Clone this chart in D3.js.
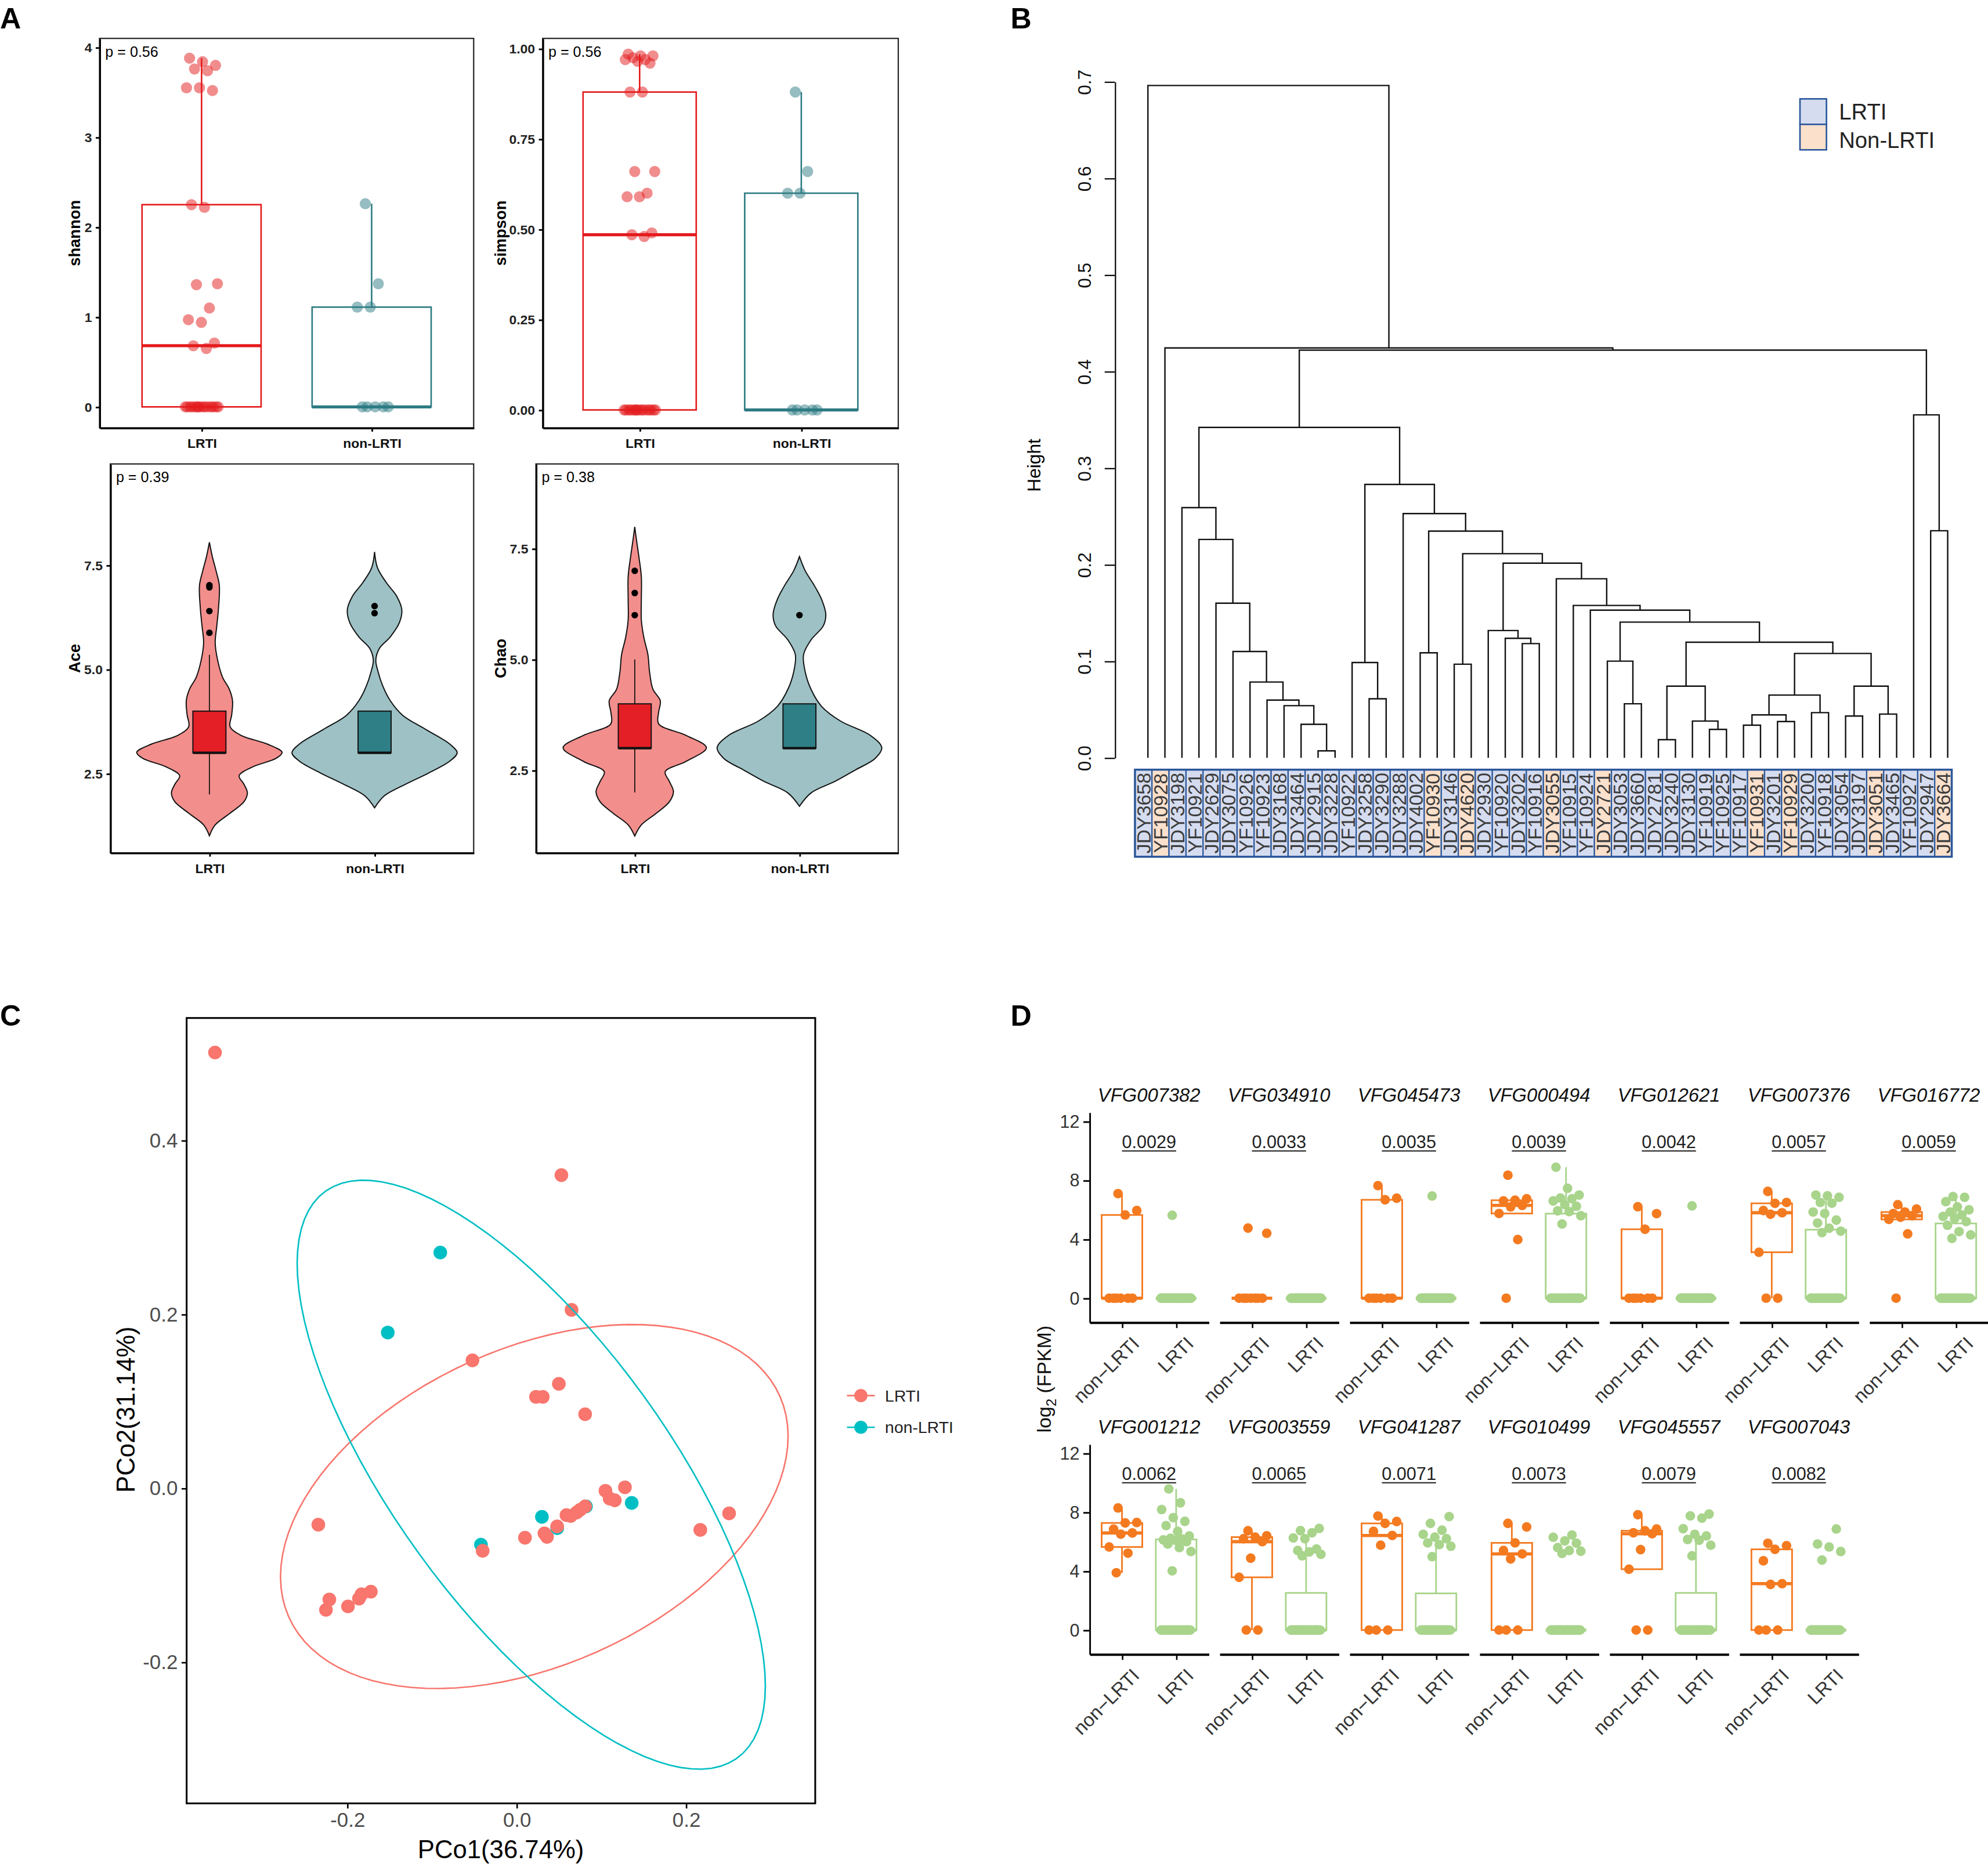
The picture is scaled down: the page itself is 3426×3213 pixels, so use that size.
<!DOCTYPE html>
<html>
<head>
<meta charset="utf-8">
<script src="https://cdn.jsdelivr.net/npm/d3@7"></script>
<style>
  body { margin: 0; background: #fff; }
  svg { display: block; font-family: "Liberation Sans", Arial, sans-serif; }
</style>
</head>
<body>
<script>
// ---------------- data: panel A ----------------
var groups = ['LRTI', 'non-LRTI'];

var shannonLRTI = [0, 0, 0, 0, 0, 0, 0, 0, 0, 0, 0, 0, 0, 0, 0,
  0.65, 0.68, 0.71, 0.94, 0.97, 1.10, 1.36, 1.37, 2.22, 2.25,
  3.52, 3.55, 3.55, 3.74, 3.76, 3.80, 3.84, 3.88];
var shannonNon = [0, 0, 0, 0, 0, 1.11, 1.11, 1.37, 2.26];

var simpsonLRTI = [0, 0, 0, 0, 0, 0, 0, 0, 0, 0, 0, 0, 0, 0, 0,
  0.48, 0.485, 0.49, 0.59, 0.59, 0.60, 0.66, 0.66, 0.88, 0.88,
  0.96, 0.965, 0.97, 0.97, 0.975, 0.98, 0.98, 0.985];
var simpsonNon = [0, 0, 0, 0, 0, 0.60, 0.60, 0.66, 0.88];

// box summaries: lower whisker, q1, median, q3, upper whisker
var aceBoxLRTI = [2.0, 3.0, 3.0, 4.0, 5.35];
var aceBoxNon = [3.0, 3.0, 3.0, 4.0, 4.0];
var aceOutLRTI = [5.88, 6.4, 6.97, 7.02];
var aceOutNon = [6.35, 6.52];
var chaoBoxLRTI = [2.0, 3.0, 3.0, 4.0, 5.0];
var chaoBoxNon = [3.0, 3.0, 3.0, 4.0, 4.0];
var chaoOutLRTI = [6.0, 6.5, 7.0];
var chaoOutNon = [6.0];

// violin outlines: [value, relative density]
var aceViolinLRTI = [[1.01, 0], [1.27, .07], [1.55, .25], [1.83, .42], [2.04, .46], [2.24, .42],
  [2.45, .36], [2.66, .52], [2.87, .81], [3.01, .88], [3.21, .70], [3.42, .38], [3.63, .25],
  [3.91, .27], [4.25, .28], [4.53, .24], [4.81, .16], [5.22, .10], [5.64, .07], [6.05, .09],
  [6.47, .11], [7.02, .12], [7.37, .08], [7.71, .035], [8.05, 0]];
var aceViolinNon = [[1.68, 0], [1.97, .12], [2.24, .37], [2.52, .66], [2.8, .91], [3.0, 1],
  [3.21, .91], [3.56, .62], [3.9, .34], [4.25, .19], [4.6, .10], [4.94, .043], [5.22, .015],
  [5.5, .057], [5.78, .19], [6.12, .30], [6.43, .33], [6.75, .27], [7.09, .14], [7.44, .035], [7.82, 0]];
var chaoViolinLRTI = [[1.02, 0], [1.27, .08], [1.53, .26], [1.79, .42], [2.02, .47], [2.25, .42],
  [2.47, .37], [2.7, .62], [3.01, .87], [3.29, .62], [3.55, .29], [3.81, .29], [4.07, .31],
  [4.33, .22], [4.72, .18], [5.11, .16], [5.5, .11], [5.89, .08], [6.35, .08], [6.87, .08],
  [7.32, .05], [7.71, .02], [7.99, 0]];
var chaoViolinNon = [[1.69, 0], [1.99, .14], [2.25, .43], [2.51, .68], [2.77, .92], [3.01, 1],
  [3.29, .86], [3.61, .50], [3.94, .27], [4.33, .14], [4.72, .07], [5.11, .05], [5.44, .14],
  [5.76, .29], [6.02, .32], [6.35, .27], [6.67, .18], [7.0, .07], [7.32, 0]];

// ---------------- data: panel B ----------------
var leafNames = ['JDY3658', 'YF10928', 'JDY3198', 'YF10921', 'JDY2629', 'JDY3075', 'YF10926',
  'YF10923', 'JDY3168', 'JDY3464', 'JDY2915', 'JDY3228', 'YF10922', 'JDY3258', 'JDY3290',
  'JDY3288', 'JDY4002', 'YF10930', 'JDY3146', 'JDY4620', 'JDY2930', 'YF10920', 'JDY3202',
  'YF10916', 'JDY3055', 'YF10915', 'YF10924', 'JDY2721', 'JDY3053', 'JDY3660', 'JDY2781',
  'JDY3240', 'JDY3130', 'YF10919', 'YF10925', 'YF10917', 'YF10931', 'JDY3201', 'YF10929',
  'JDY3200', 'YF10918', 'JDY3054', 'JDY3197', 'JDY3051', 'JDY3465', 'YF10927', 'JDY2947', 'JDY3664'];
var nonLRTILeaves = ['YF10928', 'YF10930', 'JDY4620', 'JDY3055', 'JDY2721', 'YF10931',
  'YF10929', 'JDY3051', 'JDY3664'];
// hclust-style merges: negative = leaf (1-based, in display order), positive = earlier merge
var merges = [
  [-11, -12, 0.0072], [-10, 1, 0.0346], [-9, 2, 0.0539], [-8, 3, 0.0597], [-7, 4, 0.0784],
  [-6, 5, 0.110], [-5, 6, 0.160], [-4, 7, 0.226], [-3, 8, 0.259], [-14, -15, 0.0611],
  [-13, 10, 0.0986], [-23, -24, 0.1182], [-22, 12, 0.1237], [-21, 13, 0.1317], [-19, -20, 0.0969],
  [-17, -18, 0.1087], [-29, -30, 0.0559], [-28, 17, 0.100], [-31, -32, 0.0187], [-34, -35, 0.0294],
  [-33, 20, 0.038], [19, 21, 0.0741], [-36, -37, 0.0337], [-38, -39, 0.0375], [23, 24, 0.0444],
  [-40, -41, 0.0467], [25, 26, 0.0649], [-42, -43, 0.0432], [-44, -45, 0.0452], [28, 29, 0.0741],
  [27, 30, 0.108], [22, 31, 0.1196], [18, 32, 0.1404], [-27, 33, 0.1528], [-26, 34, 0.1577],
  [-25, 35, 0.1853], [14, 36, 0.2015], [15, 37, 0.2113], [16, 38, 0.2346], [-16, 39, 0.2528],
  [11, 40, 0.283], [9, 41, 0.342], [-47, -48, 0.235], [-46, 43, 0.355], [42, 44, 0.422],
  [-2, 45, 0.4243], [-1, 46, 0.696]];
var heightTicks = [0, 0.1, 0.2, 0.3, 0.4, 0.5, 0.6, 0.7];

// ---------------- data: panel C ----------------
var pcoaLRTI = [[-0.356, 0.501], [0.053, 0.360], [0.065, 0.205], [-0.052, 0.147], [0.050, 0.120],
  [0.023, 0.105], [0.031, 0.105], [0.081, 0.085], [0.105, -0.003], [0.128, 0.001], [0.110, -0.012],
  [0.116, -0.014], [0.081, -0.021], [0.071, -0.028], [0.064, -0.032], [0.075, -0.025],
  [0.059, -0.031], [0.048, -0.044], [0.033, -0.052], [0.036, -0.056], [0.010, -0.057],
  [-0.040, -0.072], [0.251, -0.029], [0.217, -0.048], [-0.234, -0.042], [-0.172, -0.119],
  [-0.183, -0.122], [-0.186, -0.127], [-0.199, -0.136], [-0.221, -0.128], [-0.225, -0.140]];
var pcoaNon = [[-0.090, 0.271], [-0.152, 0.179], [0.030, -0.033], [0.048, -0.046],
  [0.082, -0.021], [0.136, -0.017], [-0.042, -0.065]];
// 95% ellipses: centre x, centre y, var x, var y, cov xy
var ellipseLRTI = [0.021, -0.0211, 0.0898, 0.0438, 0.0242];
var ellipseNon = [0.0174, 0.0155, 0.0764, 0.1147, -0.0671];
var pcoTicksX = [-0.2, 0, 0.2];
var pcoTicksY = [-0.2, 0, 0.2, 0.4];

// ---------------- data: panel D ----------------
var vfgNames = ['VFG007382', 'VFG034910', 'VFG045473', 'VFG000494', 'VFG012621', 'VFG007376',
  'VFG016772', 'VFG001212', 'VFG003559', 'VFG041287', 'VFG010499', 'VFG045557', 'VFG007043'];
var vfgP = ['0.0029', '0.0033', '0.0035', '0.0039', '0.0042', '0.0057', '0.0059',
  '0.0062', '0.0065', '0.0071', '0.0073', '0.0079', '0.0082'];
var vfgNon = [
  [7.1, 5.95, 5.65, 0, 0, 0, 0, 0, 0],
  [4.76, 4.41, 0, 0, 0, 0, 0, 0, 0],
  [7.64, 6.79, 6.68, 0, 0, 0, 0, 0, 0],
  [8.35, 6.75, 6.65, 6.6, 6.3, 6.2, 5.75, 3.98, 0],
  [6.21, 5.74, 4.68, 0, 0, 0, 0, 0, 0],
  [7.25, 6.5, 6.44, 5.95, 5.8, 5.7, 3.12, 0, 0],
  [6.35, 6.05, 5.85, 5.75, 5.6, 5.5, 5.35, 4.37, 0],
  [8.29, 7.3, 7.27, 6.85, 6.59, 6.51, 5.64, 5.22, 3.89],
  [6.74, 6.4, 6.31, 6.2, 6.0, 4.88, 3.58, 0, 0],
  [7.74, 7.37, 7.24, 6.7, 6.42, 5.76, 0, 0, 0],
  [7.24, 7.0, 5.92, 5.4, 5.17, 4.83, 0, 0, 0],
  [7.83, 6.86, 6.74, 6.6, 6.54, 5.46, 4.13, 0, 0],
  [5.89, 5.73, 5.48, 4.7, 3.15, 3.1, 0, 0, 0]];
// LRTI samples with reads; the remaining of the 39 LRTI samples are 0
var nLRTI = 39;
var vfgLRTINonZero = [
  [5.63],
  [],
  [6.94],
  [5.04, 5.6, 5.88, 5.93, 6.24, 6.35, 6.6, 6.75, 6.8, 7.0, 7.46, 8.89],
  [6.27],
  [4.45, 4.55, 4.75, 5.1, 5.3, 5.75, 5.85, 6.45, 6.5, 6.85, 6.95, 7.0],
  [4.06, 4.3, 4.52, 4.95, 5.2, 5.4, 5.55, 5.65, 5.85, 6.0, 6.2, 6.55, 6.85, 6.9],
  [4.02, 5.33, 5.6, 5.84, 6.0, 6.1, 6.12, 6.18, 6.23, 6.39, 6.7, 7.09, 7.38, 7.63, 8.18, 8.64, 9.58],
  [5.04, 5.14, 5.3, 5.4, 5.5, 6.2, 6.25, 6.6, 6.75, 6.9],
  [4.98, 5.69, 5.8, 5.92, 6.2, 6.31, 6.5, 6.78, 7.24, 7.7],
  [5.2, 5.35, 5.4, 5.6, 5.9, 6.05, 6.3, 6.45],
  [5.04, 5.76, 6.1, 6.15, 6.39, 6.5, 6.88, 7.6, 7.75, 7.87],
  [4.75, 5.33, 5.64, 5.84, 6.86]];
var vfgGroups = ['non-LRTI', 'LRTI'];
var log2Ticks = [0, 4, 8, 12];

// ---------------- drawing ----------------
var W = 3426, H = 3213;
var VW = 1568, VH = VW * H / W;

var svg = d3.select('body').append('svg')
  .attr('width', W)
  .attr('height', H)
  .attr('viewBox', '0 0 ' + VW + ' ' + VH);

// deterministic spread for jittered points
var spread = function(i) {
  return ((i * 0.618034 + 0.37) % 1) - 0.5;
};

var boxStats = function(vals) {
  var s = vals.slice().sort(d3.ascending);
  var q1 = d3.quantile(s, 0.25), med = d3.quantile(s, 0.5), q3 = d3.quantile(s, 0.75);
  var iqr = q3 - q1;
  var lo = d3.min(s.filter(function(v) { return v >= q1 - 1.5 * iqr; }));
  var hi = d3.max(s.filter(function(v) { return v <= q3 + 1.5 * iqr; }));
  return [lo, q1, med, q3, hi];
};

var styleAxis = function(g, size, weight, color, lw) {
  g.attr('font-family', null).attr('font-size', null);
  g.selectAll('text')
    .attr('font-size', size)
    .attr('font-weight', weight)
    .attr('fill', color);
  g.selectAll('line').attr('stroke', '#000').attr('stroke-width', lw);
  g.selectAll('.domain').attr('stroke', '#000').attr('stroke-width', lw);
};

var panelLetter = function(t, x, y) {
  svg.append('text').attr('x', x).attr('y', y)
    .attr('font-size', 23).attr('font-weight', 'bold').text(t);
};

panelLetter('A', 0, 22.5);
panelLetter('B', 797, 22.5);
panelLetter('C', 0, 809);
panelLetter('D', 797, 809);

// ---------- panel A ----------
var lineCol = { 'LRTI': '#e41a1c', 'non-LRTI': '#2d7b83' };
var violinFill = { 'LRTI': '#f28e8c', 'non-LRTI': '#9dc1c5' };
var boxFill = { 'LRTI': '#e41f26', 'non-LRTI': '#2f7f86' };

var panelFrame = function(o) {
  var g = svg.append('g');
  var x = d3.scalePoint().domain(groups).range([o.x0, o.x1]).padding(0.6);
  var y = d3.scaleLinear().domain(o.dom).range([o.y1, o.y0]);
  g.append('rect')
    .attr('x', o.x0).attr('y', o.y0)
    .attr('width', o.x1 - o.x0).attr('height', o.y1 - o.y0)
    .attr('fill', 'none').attr('stroke', '#222').attr('stroke-width', 1);
  var ya = g.append('g').attr('transform', 'translate(' + o.x0 + ',0)')
    .call(d3.axisLeft(y).tickValues(o.ticks).tickFormat(o.fmt).tickSize(3).tickSizeOuter(0));
  styleAxis(ya, 10.5, 'bold', '#222', 1.3);
  var xa = g.append('g').attr('transform', 'translate(0,' + o.y1 + ')')
    .call(d3.axisBottom(x).tickSize(3).tickSizeOuter(0));
  styleAxis(xa, 10.5, 'bold', '#111', 1.3);
  xa.selectAll('text').attr('dy', '0.95em');
  g.append('text')
    .attr('transform', 'translate(' + o.titleX + ',' + ((o.y0 + o.y1) / 2) + ') rotate(-90)')
    .attr('text-anchor', 'middle').attr('font-size', 12.5).attr('font-weight', 'bold')
    .text(o.title);
  g.append('text').attr('x', o.x0 + 4.5).attr('y', o.y0 + 14.5)
    .attr('font-size', 11.5).text(o.p);
  return { g: g, x: x, y: y };
};

var drawJitterBox = function(o, series) {
  var p = panelFrame(o);
  var bw = 0.7 * p.x.step();
  series.forEach(function(vals, k) {
    var grp = groups[k];
    var cx = p.x(grp);
    var st = boxStats(vals);
    var c = lineCol[grp];
    p.g.append('line').attr('x1', cx).attr('x2', cx)
      .attr('y1', p.y(st[3])).attr('y2', p.y(st[4])).attr('stroke', c).attr('stroke-width', 1.2);
    p.g.append('line').attr('x1', cx).attr('x2', cx)
      .attr('y1', p.y(st[1])).attr('y2', p.y(st[0])).attr('stroke', c).attr('stroke-width', 1.2);
    p.g.append('rect')
      .attr('x', cx - bw / 2).attr('width', bw)
      .attr('y', p.y(st[3])).attr('height', Math.max(0, p.y(st[1]) - p.y(st[3])))
      .attr('fill', 'none').attr('stroke', c).attr('stroke-width', 1.2);
    p.g.append('line').attr('x1', cx - bw / 2).attr('x2', cx + bw / 2)
      .attr('y1', p.y(st[2])).attr('y2', p.y(st[2])).attr('stroke', c).attr('stroke-width', 2.4);
    p.g.selectAll(null).data(vals).enter().append('circle')
      .attr('cx', function(d, i) { return cx + spread(i) * 0.2 * p.x.step(); })
      .attr('cy', function(d) { return p.y(d); })
      .attr('r', 4.4)
      .attr('fill', c).attr('fill-opacity', 0.5);
  });
};

drawJitterBox({ x0: 78.5, x1: 373.6, y0: 30.3, y1: 337.5, dom: [-0.233, 4.1], titleX: 63,
  ticks: [0, 1, 2, 3, 4], fmt: d3.format('d'), title: 'shannon', p: 'p = 0.56' },
  [shannonLRTI, shannonNon]);
drawJitterBox({ x0: 428, x1: 708.5, y0: 30.3, y1: 337.5, dom: [-0.0495, 1.0285], titleX: 399,
  ticks: [0, 0.25, 0.5, 0.75, 1], fmt: d3.format('.2f'), title: 'simpson', p: 'p = 0.56' },
  [simpsonLRTI, simpsonNon]);

var drawViolinBox = function(o, profiles, boxes, outs) {
  var p = panelFrame(o);
  var halfMax = 0.5 * p.x.step();
  var bw = 0.2 * p.x.step();
  profiles.forEach(function(prof, k) {
    var grp = groups[k];
    var cx = p.x(grp);
    var area = d3.area()
      .y(function(d) { return p.y(d[0]); })
      .x0(function(d) { return cx - d[1] * halfMax; })
      .x1(function(d) { return cx + d[1] * halfMax; })
      .curve(d3.curveCatmullRom);
    p.g.append('path').datum(prof).attr('d', area)
      .attr('fill', violinFill[grp]).attr('stroke', '#111').attr('stroke-width', 0.9);
    var st = boxes[k];
    p.g.append('line').attr('x1', cx).attr('x2', cx)
      .attr('y1', p.y(st[0])).attr('y2', p.y(st[4])).attr('stroke', '#111').attr('stroke-width', 0.8);
    p.g.append('rect')
      .attr('x', cx - bw / 2).attr('width', bw)
      .attr('y', p.y(st[3])).attr('height', p.y(st[1]) - p.y(st[3]))
      .attr('fill', boxFill[grp]).attr('stroke', '#111').attr('stroke-width', 0.9);
    p.g.append('line').attr('x1', cx - bw / 2).attr('x2', cx + bw / 2)
      .attr('y1', p.y(st[2])).attr('y2', p.y(st[2])).attr('stroke', '#111').attr('stroke-width', 2);
    p.g.selectAll(null).data(outs[k]).enter().append('circle')
      .attr('cx', cx).attr('cy', function(d) { return p.y(d); })
      .attr('r', 2.6).attr('fill', '#000');
  });
};

drawViolinBox({ x0: 87, x1: 373.6, y0: 366, y1: 672.8, dom: [0.6, 9.93], titleX: 63,
  ticks: [2.5, 5, 7.5], fmt: d3.format('.1f'), title: 'Ace', p: 'p = 0.39' },
  [aceViolinLRTI, aceViolinNon], [aceBoxLRTI, aceBoxNon], [aceOutLRTI, aceOutNon]);
drawViolinBox({ x0: 422.7, x1: 708.5, y0: 366, y1: 672.8, dom: [0.64, 9.41], titleX: 399,
  ticks: [2.5, 5, 7.5], fmt: d3.format('.1f'), title: 'Chao', p: 'p = 0.38' },
  [chaoViolinLRTI, chaoViolinNon], [chaoBoxLRTI, chaoBoxNon], [chaoOutLRTI, chaoOutNon]);

// ---------- panel B ----------
var gB = svg.append('g');
var xB = d3.scalePoint().domain(d3.range(1, leafNames.length + 1)).range([905.4, 1536.2]);
var yB = d3.scaleLinear().domain([0, 0.7]).range([597.8, 64.4]);

var nodes = [];
var nodePos = function(c) {
  return c < 0 ? { x: xB(-c), h: 0 } : nodes[c - 1];
};
merges.forEach(function(m) {
  var a = nodePos(m[0]), b = nodePos(m[1]);
  nodes.push({ x: (a.x + b.x) / 2, h: m[2], a: a, b: b });
});
gB.selectAll(null).data(nodes).enter().append('path')
  .attr('d', function(n) {
    return 'M' + n.a.x + ',' + yB(n.a.h) + 'V' + yB(n.h) + 'H' + n.b.x + 'V' + yB(n.b.h);
  })
  .attr('fill', 'none').attr('stroke', '#111').attr('stroke-width', 1.1);

var axB = gB.append('g').attr('transform', 'translate(879.3,0)')
  .call(d3.axisLeft(yB).tickValues(heightTicks).tickFormat(d3.format('.1f')).tickSize(8).tickSizeOuter(0));
styleAxis(axB, 14.5, 'normal', '#111', 1);
axB.selectAll('text')
  .attr('x', null).attr('dy', null)
  .attr('text-anchor', 'middle')
  .attr('transform', 'translate(-19,0) rotate(-90)');
gB.append('text')
  .attr('transform', 'translate(820.5,367) rotate(-90)')
  .attr('text-anchor', 'middle').attr('font-size', 14.5).text('Height');

var cellW = xB.step();
var cells = gB.selectAll(null).data(leafNames).enter().append('g')
  .attr('transform', function(d, i) { return 'translate(' + (xB(i + 1) - 3.5) + ',0)'; });
cells.append('rect')
  .attr('x', -cellW / 2).attr('width', cellW)
  .attr('y', 607.2).attr('height', 68.7)
  .attr('fill', function(d) { return nonLRTILeaves.indexOf(d) >= 0 ? '#fbe0cb' : '#d5dcf0'; })
  .attr('stroke', '#2b579a').attr('stroke-width', 1);
cells.append('text')
  .attr('transform', 'translate(0,641.5) rotate(-90)')
  .attr('text-anchor', 'middle').attr('dy', '0.36em')
  .attr('font-size', 15.5).attr('fill', '#3c3c3c')
  .text(function(d) { return d; });
gB.append('rect')
  .attr('x', xB(1) - 3.5 - cellW / 2).attr('y', 607.2)
  .attr('width', cellW * leafNames.length).attr('height', 68.7)
  .attr('fill', 'none').attr('stroke', '#2b579a').attr('stroke-width', 1.6);

var legB = [['LRTI', '#d5dcf0'], ['Non-LRTI', '#fbe0cb']];
legB.forEach(function(l, i) {
  gB.append('rect').attr('x', 1419.7).attr('y', 78 + i * 20.1)
    .attr('width', 20.9).attr('height', 20.1)
    .attr('fill', l[1]).attr('stroke', '#2b579a').attr('stroke-width', 1.2);
  gB.append('text').attr('x', 1450.5).attr('y', 94.5 + i * 22)
    .attr('font-size', 17.5).attr('fill', '#222').text(l[0]);
});

// ---------- panel C ----------
var gC = svg.append('g');
var xC = d3.scaleLinear().domain([-0.3895, 0.3527]).range([147.2, 643]);
var yC = d3.scaleLinear().domain([-0.3625, 0.5407]).range([1422.7, 803.1]);
var colC = { 'LRTI': '#f8766d', 'non-LRTI': '#00bfc4' };
var numFmt = function(d) { return d.toFixed(1); };

var axCx = gC.append('g').attr('transform', 'translate(0,1422.7)')
  .call(d3.axisBottom(xC).tickValues(pcoTicksX).tickFormat(numFmt).tickSize(4).tickSizeOuter(0));
styleAxis(axCx, 16, 'normal', '#4d4d4d', 1.2);
axCx.select('.domain').remove();
var axCy = gC.append('g').attr('transform', 'translate(147.2,0)')
  .call(d3.axisLeft(yC).tickValues(pcoTicksY).tickFormat(numFmt).tickSize(4).tickSizeOuter(0));
styleAxis(axCy, 16, 'normal', '#4d4d4d', 1.2);
axCy.select('.domain').remove();

gC.selectAll(null).data(pcoaNon).enter().append('circle')
  .attr('cx', function(d) { return xC(d[0]); }).attr('cy', function(d) { return yC(d[1]); })
  .attr('r', 5.4).attr('fill', colC['non-LRTI']);
gC.selectAll(null).data(pcoaLRTI).enter().append('circle')
  .attr('cx', function(d) { return xC(d[0]); }).attr('cy', function(d) { return yC(d[1]); })
  .attr('r', 5.4).attr('fill', colC['LRTI']);

var ellipsePts = function(e) {
  var l11 = Math.sqrt(e[2]);
  var l21 = e[4] / l11;
  var l22 = Math.sqrt(e[3] - l21 * l21);
  return d3.range(0, 101).map(function(i) {
    var t = i / 100 * 2 * Math.PI;
    return [e[0] + l11 * Math.cos(t), e[1] + l21 * Math.cos(t) + l22 * Math.sin(t)];
  });
};
var ellLine = d3.line()
  .x(function(d) { return xC(d[0]); })
  .y(function(d) { return yC(d[1]); });
gC.append('path').datum(ellipsePts(ellipseLRTI)).attr('d', ellLine)
  .attr('fill', 'none').attr('stroke', colC['LRTI']).attr('stroke-width', 1.2);
gC.append('path').datum(ellipsePts(ellipseNon)).attr('d', ellLine)
  .attr('fill', 'none').attr('stroke', colC['non-LRTI']).attr('stroke-width', 1.2);

gC.append('rect').attr('x', 147.2).attr('y', 803.1)
  .attr('width', 643 - 147.2).attr('height', 1422.7 - 803.1)
  .attr('fill', 'none').attr('stroke', '#000').attr('stroke-width', 1.4);

gC.append('text').attr('x', 395).attr('y', 1466)
  .attr('text-anchor', 'middle').attr('font-size', 20).text('PCo1(36.74%)');
gC.append('text').attr('transform', 'translate(106,1112) rotate(-90)')
  .attr('text-anchor', 'middle').attr('font-size', 20).text('PCo2(31.14%)');

groups.forEach(function(grp, i) {
  var ly = 1101 + i * 25;
  gC.append('line').attr('x1', 668).attr('x2', 690).attr('y1', ly).attr('y2', ly)
    .attr('stroke', colC[grp]).attr('stroke-width', 1.2);
  gC.append('circle').attr('cx', 679).attr('cy', ly).attr('r', 5.2).attr('fill', colC[grp]);
  gC.append('text').attr('x', 698).attr('y', ly + 4.6)
    .attr('font-size', 13).attr('fill', '#222').text(grp);
});

// ---------- panel D ----------
var gD = svg.append('g');
var colD = { 'non-LRTI': '#f47a20', 'LRTI': '#a8d48b' };
var facetW = 94, facetStep = 102.5, rowStep = 261.8;

vfgNames.forEach(function(name, f) {
  var row = f < 7 ? 0 : 1;
  var col = row ? f - 7 : f;
  var x0 = 859.3 + col * facetStep;
  var xD = d3.scalePoint().domain(vfgGroups).range([x0, x0 + facetW]).padding(0.6);
  var yD = d3.scaleLinear().domain([-1.63, 12.62])
    .range([1043.1 + row * rowStep, 877.5 + row * rowStep]);
  var g = gD.append('g');
  var lrti = vfgLRTINonZero[f].concat(d3.range(nLRTI - vfgLRTINonZero[f].length).map(function() { return 0; }));
  var series = { 'non-LRTI': vfgNon[f], 'LRTI': lrti };
  var bw = 0.75 * xD.step();

  vfgGroups.forEach(function(grp) {
    var vals = series[grp];
    var cx = xD(grp);
    var c = colD[grp];
    var st = boxStats(vals);
    g.append('line').attr('x1', cx).attr('x2', cx)
      .attr('y1', yD(st[0])).attr('y2', yD(st[4])).attr('stroke', c).attr('stroke-width', 1.3);
    g.append('rect')
      .attr('x', cx - bw / 2).attr('width', bw)
      .attr('y', yD(st[3])).attr('height', Math.max(0, yD(st[1]) - yD(st[3])))
      .attr('fill', '#fff').attr('stroke', c).attr('stroke-width', 1.3);
    g.append('line').attr('x1', cx - bw / 2).attr('x2', cx + bw / 2)
      .attr('y1', yD(st[2])).attr('y2', yD(st[2])).attr('stroke', c).attr('stroke-width', 2.6);
    g.selectAll(null).data(vals).enter().append('circle')
      .attr('cx', function(d, i) { return cx + spread(i) * 0.56 * xD.step(); })
      .attr('cy', function(d) { return yD(d); })
      .attr('r', 3.8).attr('fill', c);
  });

  g.append('text').attr('x', x0 + facetW / 2).attr('y', 869 + row * rowStep)
    .attr('text-anchor', 'middle').attr('font-size', 15).attr('font-style', 'italic')
    .attr('fill', '#111').text(name);
  g.append('line')
    .attr('x1', xD('non-LRTI')).attr('x2', xD('LRTI'))
    .attr('y1', yD(10)).attr('y2', yD(10))
    .attr('stroke', '#333').attr('stroke-width', 1);
  g.append('text').attr('x', (xD('non-LRTI') + xD('LRTI')) / 2).attr('y', yD(10) - 2)
    .attr('text-anchor', 'middle').attr('font-size', 14).attr('fill', '#222').text(vfgP[f]);

  var ax = g.append('g').attr('transform', 'translate(0,' + (1043.1 + row * rowStep) + ')')
    .call(d3.axisBottom(xD).tickSize(4.6).tickSizeOuter(0)
      .tickFormat(function(d) { return d.replace('-', '\u2212'); }));
  styleAxis(ax, 15, 'normal', '#333', 1.8);
  ax.selectAll('line').attr('stroke-width', 1.2);
  ax.selectAll('text')
    .attr('y', null).attr('dy', '0.71em')
    .attr('text-anchor', 'end')
    .attr('transform', 'translate(6.6,10.4) rotate(-45)');

  if (col === 0) {
    var ay = g.append('g').attr('transform', 'translate(' + x0 + ',0)')
      .call(d3.axisLeft(yD).tickValues(log2Ticks).tickSize(4.8).tickSizeOuter(0));
    styleAxis(ay, 14, 'normal', '#333', 1.3);
  }
});

var yTitle = gD.append('text')
  .attr('transform', 'translate(829,1088) rotate(-90)')
  .attr('text-anchor', 'middle').attr('font-size', 15.5).attr('fill', '#111');
yTitle.append('tspan').text('log');
yTitle.append('tspan').attr('font-size', 11).attr('dy', 4).text('2');
yTitle.append('tspan').attr('dy', -4).text(' (FPKM)');
</script>
</body>
</html>
